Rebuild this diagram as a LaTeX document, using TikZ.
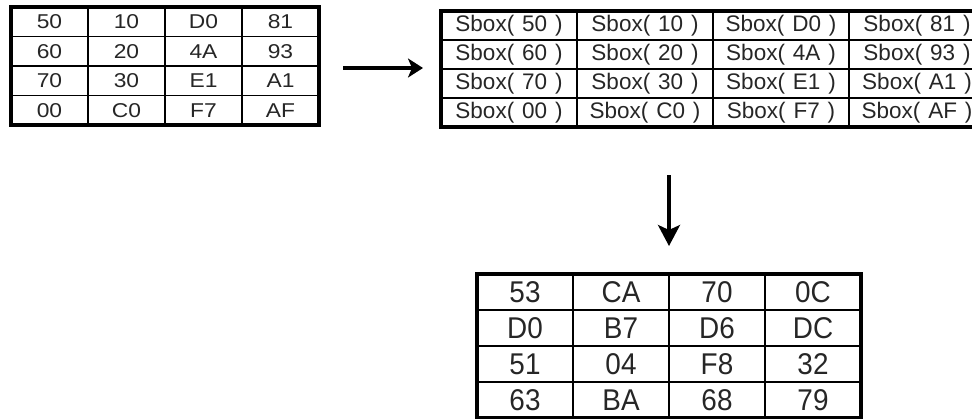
\documentclass[tikz,border=0pt]{standalone}
\usepackage{fontspec}
\setmainfont{Liberation Sans}
\usetikzlibrary{arrows.meta}

\begin{document}
\begin{tikzpicture}[x=1pt,y=-1pt,
  celltext/.style={text=black!85},
  grid/.style={draw=black, line width=1.8pt, inner sep=0pt, outer sep=0pt},
  frame/.style={draw=black, line width=3.2pt},
  flow/.style={line width=3.4pt, -{Stealth[length=15pt,width=19pt,inset=4pt]}},
]
\useasboundingbox (0,0) rectangle (972,418);

% Input state
\foreach \row [count=\r] in {{50,10,D0,81},{60,20,4A,93},{70,30,E1,A1},{00,C0,F7,AF}} {
  \foreach \v [count=\c] in \row {
    \node[grid, celltext, minimum width=77pt, minimum height=29.5pt,
          font=\fontsize{20}{20}\selectfont]
      (t1-\r-\c) at ({11+77*(\c-0.5)},{7+29.5*(\r-0.5)}) {\scalebox{1.14}[1]{\v}};
  }
}
\draw[frame] (t1-1-1.north west) rectangle (t1-4-4.south east);

% S-box substitution
\foreach \row [count=\r] in {{50,10,D0,81},{60,20,4A,93},{70,30,E1,A1},{00,C0,F7,AF}} {
  \foreach \v [count=\c] in \row {
    \node[grid, celltext, minimum width=136pt, minimum height=29pt,
          font=\fontsize{22.5}{22.5}\selectfont]
      (t2-\r-\c) at ({441+136*(\c-0.5)},{11+29*(\r-0.5)}) {Sbox(\hspace{0.35em}\v\hspace{0.35em})};
  }
}
\draw[frame] (t2-1-1.north west) rectangle (t2-4-4.south east);

% Output state
\foreach \row [count=\r] in {{53,CA,70,0C},{D0,B7,D6,DC},{51,04,F8,32},{63,BA,68,79}} {
  \foreach \v [count=\c] in \row {
    \node[grid, celltext, minimum width=96pt, minimum height=36pt,
          font=\fontsize{30}{30}\selectfont]
      (t3-\r-\c) at ({477+96*(\c-0.5)},{274+36*(\r-0.5)}) {\scalebox{0.93}[1]{\v}};
  }
}
\draw[frame, line width=4pt] (t3-1-1.north west) rectangle (t3-4-4.south east);

% Arrows between the stages
\coordinate (a1s) at (343,68);
\coordinate (a1e) at (423,68);
\coordinate (a2s) at (669,175);
\coordinate (a2e) at (669,246);
\draw[flow] (a1s) -- (a1e);
\draw[flow, -{Stealth[length=21pt,width=22pt,inset=5pt]}] (a2s) -- (a2e);
\end{tikzpicture}
\end{document}
